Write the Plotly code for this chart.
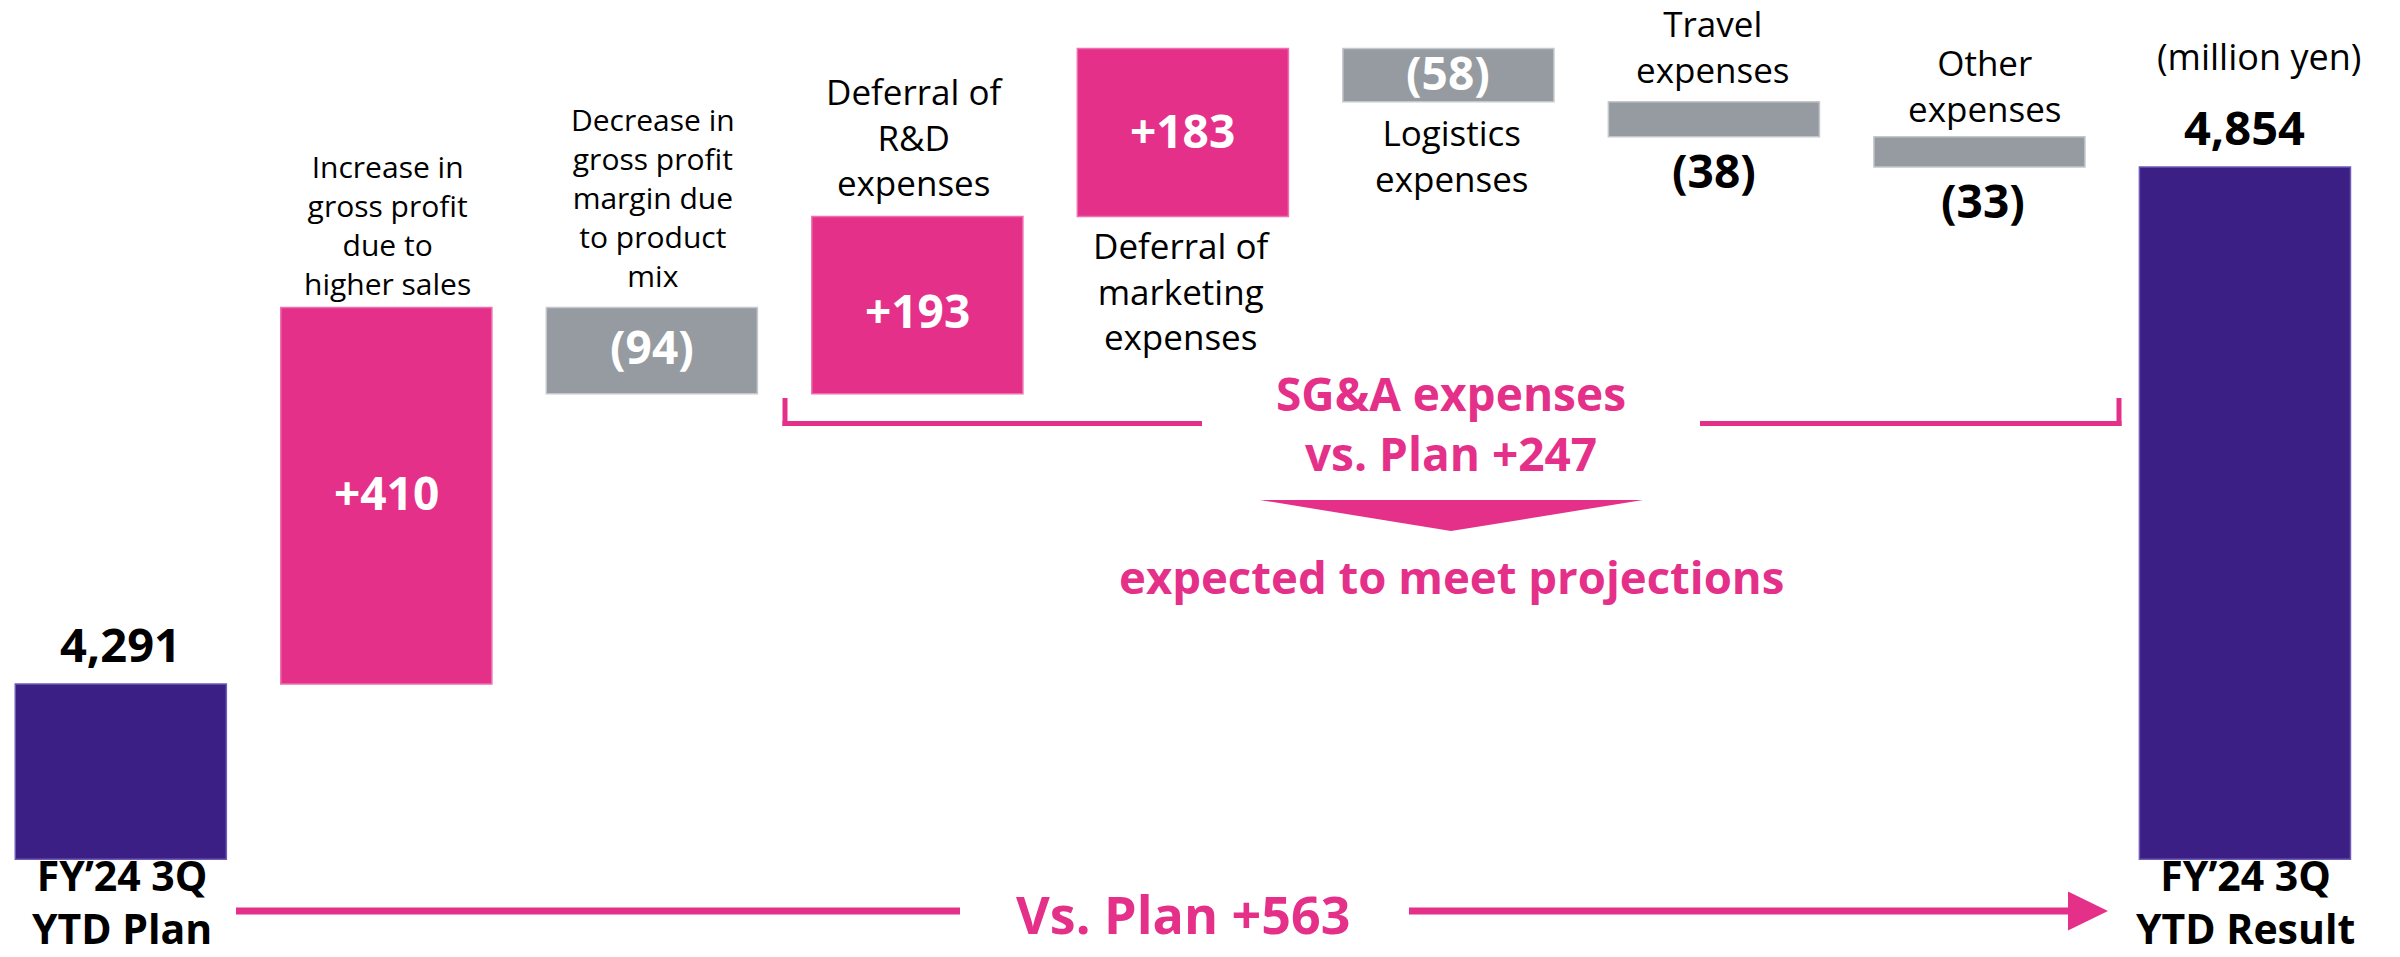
import plotly.graph_objects as go

# ---------------- data ----------------
categories = [
    "FY’24 3Q<br>YTD Plan",
    "Increase in<br>gross profit<br>due to<br>higher sales",
    "Decrease in<br>gross profit<br>margin due<br>to product<br>mix",
    "Deferral of<br>R&D<br>expenses",
    "Deferral of<br>marketing<br>expenses",
    "Logistics<br>expenses",
    "Travel<br>expenses",
    "Other<br>expenses",
    "FY’24 3Q<br>YTD Result",
]
measures = ["total", "relative", "relative", "relative", "relative",
            "relative", "relative", "relative", "total"]
values = [4291, 410, -94, 193, 183, -58, -38, -33, 4854]
sga_items = [3, 4, 5, 6, 7]          # indices of SG&A components
axis_floor = 4100                    # value axis is truncated here
unit_note = "(million yen)"

# ---------------- styles ----------------
PURPLE = "#3B1F85"
MAGENTA = "#E5308A"
GRAY = "#959BA1"
EDGE = {PURPLE: "#6E5BB5", MAGENTA: "#EE6FAE", GRAY: "#C4C8CC"}
FONT = "Open Sans"
W, H = 2400, 957


def fmt(v, total=False):
    if total:
        return f"{v:,}"
    return f"+{v:,}" if v > 0 else f"({-v:,})"


# waterfall geometry from the data
bases, heights, colors, lows, highs = [], [], [], [], []
running = None
for m, v in zip(measures, values):
    if m == "total":
        bases.append(axis_floor)
        heights.append(v - axis_floor)
        colors.append(PURPLE)
        running = v
    else:
        new = running + v
        bases.append(min(running, new))
        heights.append(abs(v))
        colors.append(MAGENTA if v > 0 else GRAY)
        running = new
    lows.append(bases[-1])
    highs.append(bases[-1] + heights[-1])

idx = list(range(len(categories)))

fig = go.Figure()
fig.add_trace(go.Bar(
    x=idx, y=heights, base=bases, width=0.795,
    marker=dict(color=colors, line=dict(color=[EDGE[c] for c in colors], width=1.5)),
    hovertext=[c.replace("<br>", " ") for c in categories], hoverinfo="text",
))


def px(x):
    return x / W


def py(y):
    return 1 - y / H


ann = []

# category labels (pixel-placed, as on the slide)
cat_pos = {
    1: (388, 225, 30),
    2: (653, 197, 30),
    3: (915, 137, 35),
    4: (1182, 291, 35),
    5: (1452, 155, 35),
    6: (1713, 47, 35),
    7: (1985, 86, 35),
}
for i, (cx, cy, fs) in cat_pos.items():
    ann.append(dict(x=px(cx), y=py(cy), xref="paper", yref="paper", text=categories[i],
                    showarrow=False, xanchor="center", yanchor="middle",
                    font=dict(family=FONT, size=fs, color="black")))

# period labels sit on the bottom edge of the slide
for i, cx in ((0, 122), (8, 2245)):
    ann.append(dict(x=px(cx), y=0, xref="paper", yref="paper",
                    text=f"<b>{categories[i]}</b>", showarrow=False,
                    xanchor="center", yanchor="bottom", borderpad=0,
                    font=dict(family=FONT, size=41, color="black")))

# value labels anchored on the bars
VAL_FS = 46
inside_shift = {1: 4, 2: 5, 3: -5, 4: 3, 5: 3}
below_shift = {6: -33, 7: -33}
for i, (m, v) in enumerate(zip(measures, values)):
    if m == "total":
        ann.append(dict(x=i, y=highs[i], xref="x", yref="y", text=f"<b>{fmt(v, True)}</b>",
                        showarrow=False, xanchor="center", yanchor="middle", yshift=40,
                        font=dict(family=FONT, size=VAL_FS + 1, color="black")))
    elif i in below_shift:
        ann.append(dict(x=i, y=lows[i], xref="x", yref="y", text=f"<b>{fmt(v)}</b>",
                        showarrow=False, xanchor="center", yanchor="middle",
                        yshift=below_shift[i], xshift=4 if i == 7 else 0,
                        font=dict(family=FONT, size=VAL_FS, color="black")))
    else:
        ann.append(dict(x=i, y=(lows[i] + highs[i]) / 2, xref="x", yref="y",
                        text=f"<b>{fmt(v)}</b>", showarrow=False,
                        xanchor="center", yanchor="middle", yshift=inside_shift[i],
                        font=dict(family=FONT, size=VAL_FS, color="white")))

sga_total = sum(values[i] for i in sga_items)
overall = values[-1] - values[0]

ann.append(dict(x=px(1451), y=py(423), xref="paper", yref="paper",
                text=f"<b>SG&A expenses<br>vs. Plan {fmt(sga_total)}</b>",
                showarrow=False, xanchor="center", yanchor="middle",
                font=dict(family=FONT, size=46, color=MAGENTA)))
ann.append(dict(x=px(1451), y=py(576), xref="paper", yref="paper",
                text="<b>expected to meet projections</b>",
                showarrow=False, xanchor="center", yanchor="middle",
                font=dict(family=FONT, size=45.5, color=MAGENTA)))
ann.append(dict(x=px(1183), y=py(913), xref="paper", yref="paper",
                text=f"<b>Vs. Plan {fmt(overall)}</b>",
                showarrow=False, xanchor="center", yanchor="middle",
                font=dict(family=FONT, size=52, color=MAGENTA)))
ann.append(dict(x=px(2259), y=py(56), xref="paper", yref="paper",
                text=unit_note, showarrow=False, xanchor="center", yanchor="middle",
                font=dict(family=FONT, size=36, color="black")))

shapes = []


def seg(x0, y0, x1, y1, w):
    shapes.append(dict(type="line", xref="paper", yref="paper",
                       x0=px(x0), y0=py(y0), x1=px(x1), y1=py(y1),
                       line=dict(color=MAGENTA, width=w)))


def poly(pts):
    d = "M " + " L ".join(f"{px(x)},{py(y)}" for x, y in pts) + " Z"
    shapes.append(dict(type="path", xref="paper", yref="paper", path=d,
                       fillcolor=MAGENTA, line=dict(width=0)))


# SG&A bracket
seg(785, 398, 785, 426, 5)
seg(782.5, 423.5, 1202, 423.5, 5)
seg(1700, 423.5, 2121.5, 423.5, 5)
seg(2119, 398, 2119, 426, 5)
# down-pointing wedge
poly([(1260, 500), (1643, 500), (1451, 531)])
# total-change arrow
seg(236, 911, 960, 911, 7)
seg(1409, 911, 2070, 911, 7)
poly([(2068, 891.5), (2108, 911), (2068, 930.5)])

fig.update_layout(
    width=W, height=H,
    margin=dict(l=0, r=0, t=0, b=0),
    paper_bgcolor="white", plot_bgcolor="white",
    showlegend=False,
    xaxis=dict(range=[-0.455, 8.584], visible=False, fixedrange=True),
    yaxis=dict(range=[3993.6, 5035.8], visible=False, fixedrange=True),
    annotations=ann, shapes=shapes,
    font=dict(family=FONT),
)

fig.write_html("out.html", config={"displayModeBar": False},
               post_script="document.body.style.margin='0px';")
